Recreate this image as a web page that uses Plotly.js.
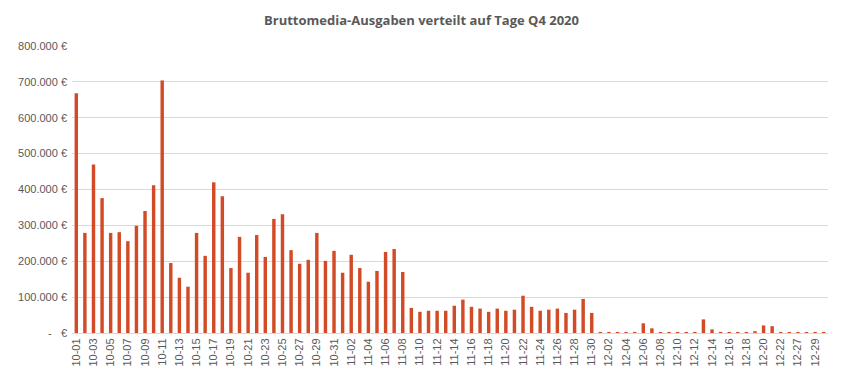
<!DOCTYPE html>
<html>
<head>
<meta charset="utf-8">
<script src="https://cdn.plot.ly/plotly-3.0.1.min.js"></script>
<style>html,body{margin:0;padding:0;background:#fff;}#chart{width:843px;height:379px;}</style>
</head>
<body>
<div id="chart"></div>
<script>
const dates = [
  "10-01","10-02","10-03","10-04","10-05","10-06","10-07","10-08","10-09","10-10",
  "10-11","10-12","10-13","10-14","10-15","10-16","10-17","10-18","10-19","10-20",
  "10-21","10-22","10-23","10-24","10-25","10-26","10-27","10-28","10-29","10-30","10-31",
  "11-01","11-02","11-03","11-04","11-05","11-06","11-07","11-08","11-09","11-10",
  "11-11","11-12","11-13","11-14","11-15","11-16","11-17","11-18","11-19","11-20",
  "11-21","11-22","11-23","11-24","11-25","11-26","11-27","11-28","11-29","11-30",
  "12-01","12-02","12-03","12-04","12-05","12-06","12-07","12-08","12-09","12-10",
  "12-11","12-12","12-13","12-14","12-15","12-16","12-17","12-18","12-19","12-20",
  "12-21","12-22","12-23","12-27","12-28","12-29","12-30"
];
const spend = [
  668000,279000,470000,376000,279000,281000,256000,299000,340000,412000,
  704000,195000,154000,129000,279000,215000,420000,381000,181000,268000,
  168000,273000,212000,318000,331000,231000,193000,204000,279000,201000,229000,
  168000,218000,181000,143000,173000,226000,234000,170000,70000,59000,
  62000,62000,62000,76000,93000,73000,68000,59000,68000,62000,
  65000,104000,73000,62000,65000,68000,56000,65000,95000,56000,
  3000,3000,3000,3000,3000,27000,13000,3000,3000,3000,
  3000,3000,38000,10000,3000,3000,3000,3000,5000,21000,
  19000,3000,3000,3000,3000,3000,3000
];
const yTicks = [0,100000,200000,300000,400000,500000,600000,700000,800000];
const yTickText = yTicks.map(v => v === 0 ? "-   €" : v.toLocaleString("de-DE") + " €");
const xTickVals = dates.filter((d, i) => i % 2 === 0);

const trace = {
  type: "bar",
  x: dates,
  y: spend,
  marker: {color: "#d24a26"},
  hoverinfo: "x+y"
};

const layout = {
  width: 843,
  height: 379,
  margin: {l: 72, r: 15, t: 46, b: 46},
  paper_bgcolor: "#ffffff",
  plot_bgcolor: "#ffffff",
  bargap: 0.6,
  showlegend: false,
  title: {
    text: "<b>Bruttomedia-Ausgaben verteilt auf Tage Q4 2020</b>",
    x: 0.5,
    xanchor: "center",
    y: 0.945,
    yanchor: "middle",
    font: {family: "Open Sans, Liberation Sans, sans-serif", size: 13, color: "#595959"}
  },
  xaxis: {
    type: "category",
    tickmode: "array",
    tickvals: xTickVals,
    ticktext: xTickVals,
    tickangle: -90,
    tickfont: {family: "Liberation Sans, Arial, sans-serif", size: 11, color: "#595959"},
    showgrid: false,
    showline: true,
    linecolor: "#d9d9d9",
    linewidth: 1,
    ticks: "",
    zeroline: false,
    fixedrange: true
  },
  yaxis: {
    range: [0, 800000],
    tickmode: "array",
    tickvals: yTicks,
    ticktext: yTickText,
    tickfont: {family: "Liberation Sans, Arial, sans-serif", size: 11, color: "#595959"},
    showgrid: true,
    gridcolor: "#d9d9d9",
    gridwidth: 1,
    zeroline: false,
    showline: false,
    ticks: "",
    ticklabelstandoff: 4,
    fixedrange: true
  }
};

Plotly.newPlot("chart", [trace], layout, {displayModeBar: false, staticPlot: true});
</script>
</body>
</html>
